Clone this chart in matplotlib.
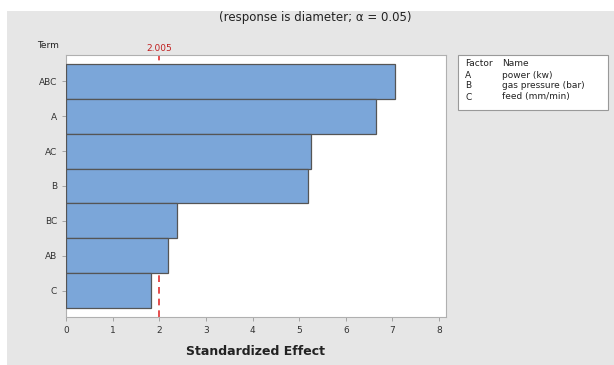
import matplotlib.pyplot as plt
from matplotlib.patches import Rectangle

# Pareto chart of standardized effects
terms = ["ABC", "A", "AC", "B", "BC", "AB", "C"]
effects = [7.05, 6.65, 5.25, 5.18, 2.37, 2.18, 1.83]
critical = 2.005
factors = ["A", "B", "C"]
names = ["power (kw)", "gas pressure (bar)", "feed (mm/min)"]

plt.rcParams['font.family'] = ['DejaVu Sans']

fig = plt.figure(figsize=(6.14, 3.65), dpi=100)
fig.patch.set_facecolor("white")
fig.patches.append(Rectangle((7 / 614, 0), 1, 1 - 11 / 365, transform=fig.transFigure,
                             facecolor="#e6e6e6", edgecolor="none", zorder=-10))

ax = fig.add_axes([66 / 614, 1 - 317 / 365, 380 / 614, 262 / 365])
ax.set_facecolor("white")

ypos = list(range(len(terms)))
ax.barh(ypos, effects, height=1.0, color="#7ba6d9", edgecolor="#555555", linewidth=0.9, zorder=3)
ax.axvline(critical, color="#e03030", linestyle=(0, (4, 3)), linewidth=1.2, zorder=2)
ax.text(critical, -0.8, f"{critical:.3f}", color="#c02020", ha="center", va="bottom", fontsize=6.5)

ax.set_xlim(0, 8.15)
ax.set_ylim(6.75, -0.75)
ax.set_yticks(ypos)
ax.set_yticklabels(terms)
ax.set_xticks(range(9))
ax.tick_params(axis="both", labelsize=6.5, colors="#333333", length=3, width=0.6)
ax.tick_params(axis="both", color="#999999")
for s in ax.spines.values():
    s.set_color("#b0b0b0")
    s.set_linewidth(0.8)

ax.set_xlabel("Standardized Effect", fontsize=9, fontweight="bold", color="#222222", labelpad=7)
fig.text(48 / 614, 1 - 45 / 365, "Term", fontsize=6.5, ha="center", va="center", color="#222222")
fig.text(315 / 614, 1 - 18 / 365, "(response is diameter; \u03b1 = 0.05)", fontsize=8.5,
         ha="center", va="center", color="#222222")

# factor legend box
fig.patches.append(Rectangle((458 / 614, 1 - 110 / 365), 150 / 614, 55 / 365, transform=fig.transFigure,
                             facecolor="white", edgecolor="#999999", linewidth=0.8))
rows = [("Factor", "Name")] + list(zip(factors, names))
for i, (f, n) in enumerate(rows):
    y = 1 - (64 + i * 11) / 365
    fig.text(465 / 614, y, f, fontsize=6.5, va="center", color="#222222")
    fig.text(502 / 614, y, n, fontsize=6.5, va="center", color="#222222")

fig.savefig("out.png", dpi=100)
